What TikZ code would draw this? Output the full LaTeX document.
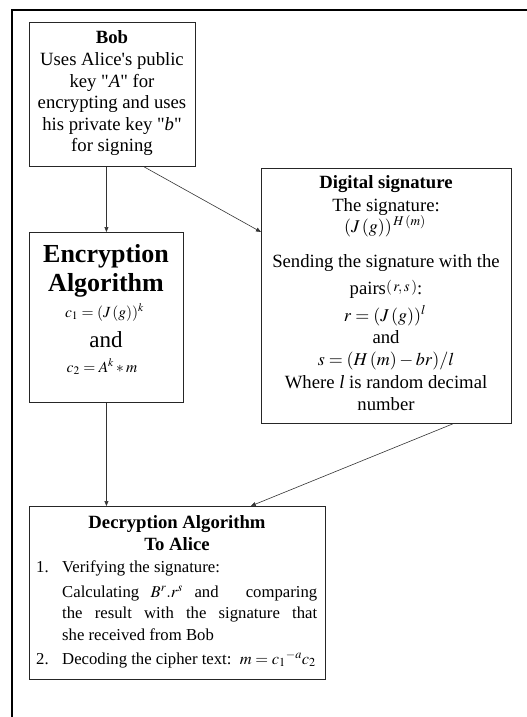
\documentclass[tikz,border=0pt]{standalone}
\usepackage{mathptmx}
\usepackage[no-math]{fontspec}
\setmainfont{Liberation Serif}[Ligatures=TeXOff]
\usetikzlibrary{arrows.meta,calc}

\newcommand\fsBody{\fontsize{18.7}{21.5}\selectfont}
\newcommand\fsBig{\fontsize{26}{29}\selectfont}
\newcommand\fsAnd{\fontsize{23}{26}\selectfont}
\newcommand\fsMath{\fontsize{15.5}{18}\selectfont}
\newcommand\fsSig{\fontsize{18}{21}\selectfont}
\newcommand\fsDec{\fontsize{16.7}{21}\selectfont}
\newcommand\fsSmall{\fontsize{15}{17}\selectfont}
\newcommand\fsEq{\fontsize{16.5}{19}\selectfont}

\tikzset{
  box/.style={draw=black!85, line width=0.9pt, rectangle, anchor=north west, inner sep=0pt},
  ln/.style={anchor=base, inner sep=0pt, font=\fsBody},
  lnw/.style={anchor=base west, inner sep=0pt, font=\fsDec},
  conn/.style={draw=black!80, line width=0.6pt, -{Triangle[length=5pt,width=4pt]}},
}

\begin{document}
\begin{tikzpicture}[x=1pt, y=-1pt]
\useasboundingbox (0,0) rectangle (527,717);

% outer frame (top and left edges only)
\draw[line width=2pt] (12,717) -- (12,10) -- (527,10);

% boxes
\node[box, minimum width=166pt, minimum height=144pt] (bob) at (29,22) {};
\node[box, minimum width=154pt, minimum height=170pt] (enc) at (29,232) {};
\node[box, minimum width=250pt, minimum height=255pt] (ds)  at (261,168) {};
\node[box, minimum width=296pt, minimum height=173pt] (dec) at (29,506) {};

% Bob
\node[ln] (b1) at (112,44)  {\textbf{Bob}};
\node[ln] (b2) at (112,66)  {Uses Alice's public};
\node[ln] (b3) at (112,87)  {key "\textit{A}" for};
\node[ln] (b4) at (112,108) {encrypting and uses};
\node[ln] (b5) at (112,130) {his private key "\textit{b}"};
\node[ln] (b6) at (112,151.5) {for signing};

% Encryption Algorithm
\node[ln, font=\fsBig] (e1) at (106,262) {\textbf{Encryption}};
\node[ln, font=\fsBig] (e2) at (106,291) {\textbf{Algorithm}};
\node[ln, font=\fsMath] (e3) at (104.5,317) {$c_{1} = (J\,(g))^{k}$};
\node[ln, font=\fsAnd] (e4) at (106,347) {and};
\node[ln, font=\fsMath] (e5) at (102,372) {$c_{2} = A^{k} * m$};

% Digital signature
\node[ln] (d1) at (386,188) {\textbf{Digital signature}};
\node[ln] (d2) at (386,211) {The signature:};
\node[ln, font=\fsSig] (d3) at (385,232) {$(J\,(g))^{\,H\,(m)}$};
\node[ln] (d4) at (386,267) {Sending the signature with the};
\node[ln] (d5) at (386,294) {pairs\raisebox{3pt}{\fsSmall$(\,r, s\,)$}:};
\node[ln, font=\fsSig] (d6) at (385,321) {$r = (J\,(g))^{l}$};
\node[ln] (d7) at (386,343) {and};
\node[ln, font=\fsSig] (d8) at (386,365) {$s = (H\,(m) - br) / l$};
\node[ln] (d9) at (386,388) {Where \textit{l} is random decimal};
\node[ln] (d10) at (386,410) {number};

% Decryption Algorithm
\node[ln] (r1) at (177,528) {\textbf{Decryption Algorithm}};
\node[ln] (r2) at (177,550) {\textbf{To Alice}};
\node[lnw] (n1) at (36,572) {1.};
\node[lnw] (r3) at (62,572) {Verifying the signature:};
\node[lnw] (r4) at (62,597) {\hbox to 255pt{Calculating\hspace{3pt plus 1fil}{\fsEq$B^{r}.r^{s}$}\hspace{3pt plus 1fil}and\hspace{10pt plus 2fil}comparing}};
\node[lnw] (r5) at (62,618) {\makebox[255pt][s]{the result with the signature that}};
\node[lnw] (r6) at (62,640) {she received from Bob};
\node[lnw] (n2) at (36,664) {2.};
\node[lnw] (r7) at (62,664) {Decoding the cipher text: \,{\fsEq$m = c_{1}{}^{-a} c_{2}$}};

% connectors
\draw[conn] (enc.north |- bob.south) -- (enc.north);
\draw[conn] ($(bob.south west)!0.69!(bob.south east)$) -- ($(ds.north west)!0.25!(ds.south west)$);
\draw[conn] (enc.south) -- (enc.south |- dec.north);
\draw[conn] ($(ds.south west)!0.764!(ds.south east)$) -- ($(dec.north west)!0.747!(dec.north east)$);
\end{tikzpicture}
\end{document}
